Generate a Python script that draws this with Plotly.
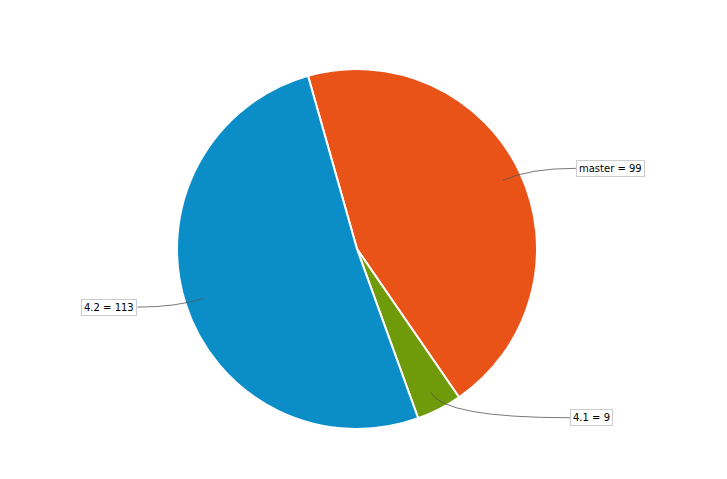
import math
import plotly.graph_objects as go

labels = ["master", "4.1", "4.2"]
values = [99, 9, 113]
colors = ["#EA5318", "#6F9A0A", "#0B8EC8"]

W, H = 727, 479
OFF = 8  # default page body margin in the rendered html
CX, CY, R = 357 - OFF, 249 - OFF, 179  # pie centre and radius in figure pixels
RD = R + 1  # domain half-size (plotly draws the border inside)
ROTATION = -15.8

fig = go.Figure(go.Pie(
    labels=labels, values=values, sort=False, direction="clockwise",
    rotation=ROTATION, textinfo="none", hoverinfo="label+value",
    marker=dict(colors=colors, line=dict(color="white", width=2)),
    domain=dict(x=[(CX - RD) / W, (CX + RD) / W], y=[(H - CY - RD) / H, (H - CY + RD) / H]),
    showlegend=False,
))

def px2paper(x, y):
    return x / W, 1 - y / H

total = sum(values)
start = ROTATION
annotations, shapes = [], []
for lab, val in zip(labels, values):
    span = val / total * 360
    mid = math.radians(start + span / 2)
    start += span
    s, c = math.sin(mid), math.cos(mid)
    ax, ay = CX + 0.9 * R * s, CY - 0.9 * R * c
    sign = 1 if s >= 0 else -1
    bx = CX + sign * (1.16 + 0.07 * abs(s)) * R
    by = CY - 1.06 * R * c
    t = (ay - by) / c if abs(c) > 1e-6 else 0
    qx, qy = ax + t * s, ay - t * c
    p = [px2paper(ax, ay), px2paper(qx, qy), px2paper(bx, by)]
    shapes.append(dict(type="path", xref="paper", yref="paper",
                       path=f"M {p[0][0]},{p[0][1]} Q {p[1][0]},{p[1][1]} {p[2][0]},{p[2][1]}",
                       line=dict(color="#555555", width=0.8)))
    tx, ty = px2paper(bx, by)
    annotations.append(dict(xref="paper", yref="paper", x=tx, y=ty,
                            text=f"{lab} = {val}", showarrow=False,
                            xanchor="left" if sign > 0 else "right", yanchor="middle",
                            font=dict(family="DejaVu Sans", size=10, color="black"),
                            bgcolor="white", bordercolor="#cccccc", borderwidth=1, borderpad=2))

fig.update_layout(width=W, height=H, margin=dict(l=0, r=0, t=0, b=0),
                  paper_bgcolor="white", plot_bgcolor="white",
                  annotations=annotations, shapes=shapes)
fig.write_html("out.html")
